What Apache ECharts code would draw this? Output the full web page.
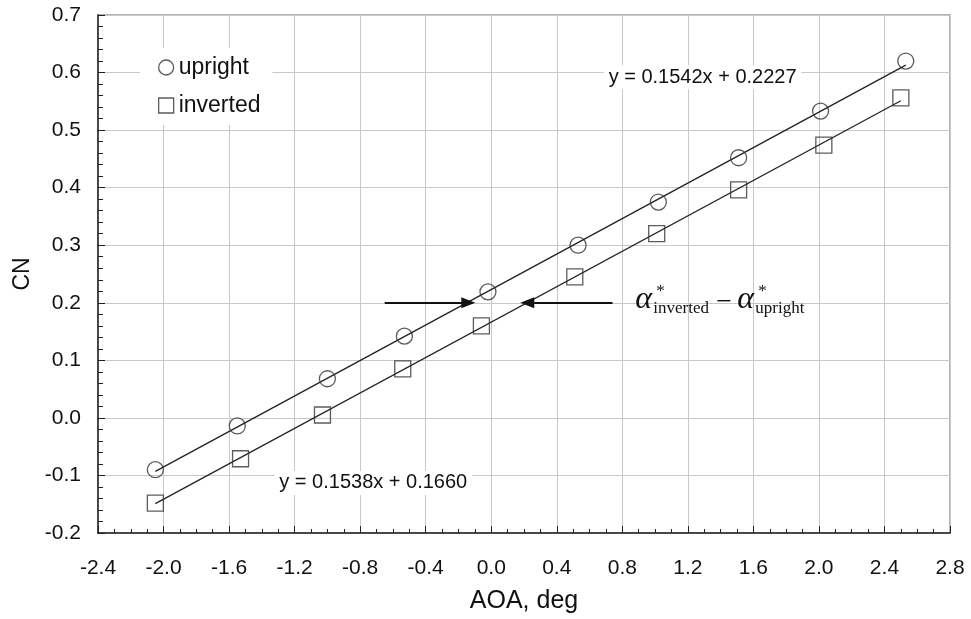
<!DOCTYPE html>
<html>
<head>
<meta charset="utf-8">
<script src="https://cdn.jsdelivr.net/npm/echarts@6/dist/echarts.min.js"></script>
<style>
  html, body { margin: 0; padding: 0; background: #fff; }
  #chart { width: 971px; height: 619px; }
</style>
</head>
<body>
<div id="chart"></div>
<script>
/* CN vs AOA, upright / inverted */
"use strict";

var uprightAoa = [-2.05, -1.55, -1.00, -0.53, -0.02, 0.53, 1.02, 1.51, 2.01, 2.53];
var uprightCn = [-0.090, -0.014, 0.068, 0.142, 0.219, 0.300, 0.375, 0.452, 0.533, 0.620];
var invertedAoa = [-2.05, -1.53, -1.03, -0.54, -0.06, 0.51, 1.01, 1.51, 2.03, 2.50];
var invertedCn = [-0.148, -0.071, 0.005, 0.085, 0.160, 0.245, 0.320, 0.396, 0.474, 0.556];

// trend line end points
var uprightFitAoa = [-2.05, 2.53];
var uprightFitCn = [-0.093, 0.613];
var invertedFitAoa = [-2.05, 2.50];
var invertedFitCn = [-0.149, 0.551];

var uprightEq = 'y = 0.1542x + 0.2227';
var invertedEq = 'y = 0.1538x + 0.1660';

var pairs = function(xs, ys) {
	return xs.map(function(x, i) { return [x, ys[i]]; });
};

var fmt = function(v) {
	if (Math.abs(v) < 1e-9) return '0.0';
	return v.toFixed(1);
};

var ink = '#222';
var font = "'Liberation Sans', Arial, sans-serif";
var serif = "'Liberation Serif', 'Times New Roman', serif";

var chart = echarts.init(document.getElementById('chart'));

var option = {
	animation: false,
	backgroundColor: '#fff',
	textStyle: { fontFamily: font },
	grid: {
		left: 98, right: 21, top: 15, bottom: 86,
		show: true,
		borderColor: '#9a9a9a',
		borderWidth: 1.5
	},
	legend: {
		orient: 'vertical',
		left: 140,
		top: 48,
		padding: [8, 12, 8, 18],
		backgroundColor: '#fff',
		itemWidth: 15,
		itemHeight: 15,
		itemGap: 15,
		textStyle: { fontSize: 23, color: '#111', fontFamily: font },
		data: [
			{ name: 'upright', icon: 'circle', itemStyle: { color: 'rgba(0,0,0,0)', borderColor: '#333', borderWidth: 1.3 } },
			{ name: 'inverted', icon: 'rect', itemStyle: { color: 'rgba(0,0,0,0)', borderColor: '#333', borderWidth: 1.3 } }
		]
	},
	xAxis: {
		type: 'value',
		min: -2.4,
		max: 2.8,
		interval: 0.4,
		name: 'AOA, deg',
		nameLocation: 'middle',
		nameGap: 56,
		nameTextStyle: { fontSize: 25, color: '#111', fontFamily: font },
		axisLine: { onZero: false, lineStyle: { color: ink, width: 1.5 } },
		axisTick: { inside: true, length: 7, lineStyle: { color: ink } },
		minorTick: { show: true, splitNumber: 4, length: 4, lineStyle: { color: ink } },
		splitLine: { show: true, lineStyle: { color: '#c8c8c8', width: 1 } },
		axisLabel: { fontSize: 21, color: '#111', margin: 25, formatter: fmt, fontFamily: font }
	},
	yAxis: {
		type: 'value',
		min: -0.2,
		max: 0.7,
		interval: 0.1,
		name: 'CN',
		nameLocation: 'middle',
		nameGap: 62,
		nameTextStyle: { fontSize: 23, color: '#111', fontFamily: font },
		axisLine: { onZero: false, lineStyle: { color: ink, width: 1.5 } },
		axisTick: { inside: true, length: 7, lineStyle: { color: ink } },
		minorTick: { show: true, splitNumber: 5, length: 5, lineStyle: { color: ink } },
		splitLine: { show: true, lineStyle: { color: '#c8c8c8', width: 1 } },
		axisLabel: { fontSize: 21, color: '#111', margin: 17, formatter: fmt, fontFamily: font }
	},
	series: [
		{
			name: 'upright fit',
			type: 'line',
			data: pairs(uprightFitAoa, uprightFitCn),
			showSymbol: false,
			silent: true,
			lineStyle: { color: ink, width: 1.3 },
			markPoint: {
				symbol: 'rect',
				symbolSize: 1,
				itemStyle: { color: 'rgba(0,0,0,0)' },
				label: {
					show: true,
					formatter: uprightEq,
					fontSize: 20,
					color: '#111',
					fontFamily: font,
					backgroundColor: '#fff',
					padding: [2, 5]
				},
				data: [{ coord: [1.29, 0.592] }]
			}
		},
		{
			name: 'inverted fit',
			type: 'line',
			data: pairs(invertedFitAoa, invertedFitCn),
			showSymbol: false,
			silent: true,
			lineStyle: { color: ink, width: 1.3 },
			markPoint: {
				symbol: 'rect',
				symbolSize: 1,
				itemStyle: { color: 'rgba(0,0,0,0)' },
				label: {
					show: true,
					formatter: invertedEq,
					fontSize: 20,
					color: '#111',
					fontFamily: font,
					backgroundColor: '#fff',
					padding: [2, 5]
				},
				data: [{ coord: [-0.72, -0.113] }]
			},
			markLine: {
				silent: true,
				symbol: ['none', 'triangle'],
				symbolSize: [0, 13],
				label: { show: false },
				lineStyle: { color: '#111', width: 2, type: 'solid' },
				data: [
					[{ coord: [-0.65, 0.2] }, { coord: [-0.14, 0.2], symbolSize: [11, 14] }],
					[{ coord: [0.74, 0.2] }, { coord: [0.22, 0.2], symbolSize: [11, 14] }]
				]
			}
		},
		{
			name: 'upright',
			type: 'scatter',
			data: pairs(uprightAoa, uprightCn),
			symbol: 'circle',
			symbolSize: 16,
			itemStyle: { color: 'rgba(0,0,0,0)', borderColor: '#333', borderWidth: 1.3 },
			z: 3
		},
		{
			name: 'inverted',
			type: 'scatter',
			data: pairs(invertedAoa, invertedCn),
			symbol: 'rect',
			symbolSize: 16,
			itemStyle: { color: 'rgba(0,0,0,0)', borderColor: '#333', borderWidth: 1.3 },
			z: 3
		}
	]
};

chart.setOption(option);

/* alpha annotation next to the arrows */
var p = chart.convertToPixel({ gridIndex: 0 }, [0.8, 0.2]);
var bx = p[0] + 13, by = p[1];
var alpha = { fontSize: 32, fontStyle: 'italic', fontFamily: serif, fill: '#111', verticalAlign: 'middle' };
var sub = { fontSize: 17, fontFamily: serif, fill: '#111', verticalAlign: 'middle' };
var txt = function(x, y, s, st) {
	return { type: 'text', x: x, y: y, style: Object.assign({ text: s }, st) };
};
chart.setOption({
	graphic: [
		txt(bx, by - 3, '\u03b1', alpha),
		txt(bx + 21, by - 11, '*', sub),
		txt(bx + 18, by + 6, 'inverted', sub),
		txt(bx + 81, by, '\u2212', { fontSize: 28, fontFamily: serif, fill: '#111', verticalAlign: 'middle' }),
		txt(bx + 102, by - 3, '\u03b1', alpha),
		txt(bx + 123, by - 11, '*', sub),
		txt(bx + 120, by + 6, 'upright', sub)
	]
});
</script>
</body>
</html>
